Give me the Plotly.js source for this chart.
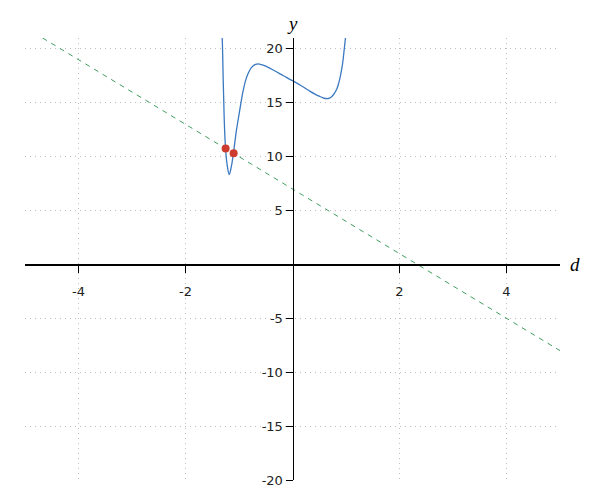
<!DOCTYPE html>
<html>
<head>
<meta charset="utf-8">
<script src="https://cdn.plot.ly/plotly-3.0.1.min.js"></script>
<style>html,body{margin:0;padding:0;background:#fff;}#chart{width:600px;height:500px;}</style>
</head>
<body>
<div id="chart"></div>
<script>
// Curve samples
const curveX = [-1.335, -1.314, -1.295, -1.277, -1.252, -1.22, -1.183, -1.146, -1.103, -1.052, -1.0, -0.96, -0.927, -0.88, -0.834, -0.79, -0.74, -0.69, -0.647, -0.523, -0.336, -0.17, 0.0, 0.17, 0.33, 0.42, 0.5, 0.57, 0.643, 0.69, 0.736, 0.78, 0.83, 0.86, 0.89, 0.935, 0.97, 0.99, 1.0];
const curveY = [22.5, 21.0, 17.04, 13.6, 10.8, 9.17, 8.33, 9.0, 10.34, 12.3, 13.9, 15.1, 16.0, 17.0, 17.65, 18.1, 18.4, 18.55, 18.6, 18.43, 17.96, 17.5, 17.04, 16.55, 16.05, 15.8, 15.6, 15.45, 15.37, 15.42, 15.58, 15.85, 16.3, 16.75, 17.35, 18.58, 20.1, 21.0, 21.6];
// Dashed line end points
const lineX = [-4.67, 5.0];
const lineY = [21.0, -8.0];
// Intersection points
const ptsX = [-1.25, -1.10];
const ptsY = [10.75, 10.3];
// Ticks
const xTicks = [-4, -2, 2, 4];
const yTicks = [-20, -15, -10, -5, 5, 10, 15, 20];

const traces = [
  {x: lineX, y: lineY, mode: 'lines', line: {color: '#3f9e5e', width: 1, dash: '5px,5px'}, hoverinfo: 'skip'},
  {x: curveX, y: curveY, mode: 'lines', line: {color: '#3a78c0', width: 1.3, shape: 'spline', smoothing: 1}, hoverinfo: 'skip'},
  {x: ptsX, y: ptsY, mode: 'markers', marker: {color: '#cc3b2e', size: 8}, hoverinfo: 'skip'}
];

const axisCommon = {
  showline: true, linecolor: '#000', linewidth: 1.2,
  ticks: 'outside', ticklen: 7, tickwidth: 1, tickcolor: '#000',
  showgrid: true, gridcolor: '#bdbdbd', griddash: '1px,4px', gridwidth: 1,
  zeroline: false,
  tickfont: {family: 'DejaVu Sans', size: 13, color: '#222'},
  anchor: 'free'
};

const layout = {
  width: 600, height: 500,
  margin: {l: 25, r: 40, t: 38, b: 20},
  showlegend: false,
  paper_bgcolor: '#fff', plot_bgcolor: '#fff',
  xaxis: Object.assign({}, axisCommon, {range: [-5, 5], tickvals: xTicks, ticktext: xTicks.map(String), position: 20/41, ticklabelstandoff: 8}),
  yaxis: Object.assign({}, axisCommon, {range: [-20, 21], tickvals: yTicks, ticktext: yTicks.map(String), position: 0.5}),
  annotations: [
    {x: 5, y: 0, xref: 'x', yref: 'y', text: '<i>d</i>', showarrow: false, xanchor: 'left', yanchor: 'middle', xshift: 8, font: {family: 'Liberation Serif', size: 19, color: '#000'}},
    {x: 0, y: 21, xref: 'x', yref: 'y', text: '<i>y</i>', showarrow: false, xanchor: 'center', yanchor: 'bottom', yshift: 2, font: {family: 'Liberation Serif', size: 19, color: '#000'}}
  ]
};

Plotly.newPlot('chart', traces, layout, {displayModeBar: false, staticPlot: true});
</script>
</body>
</html>
